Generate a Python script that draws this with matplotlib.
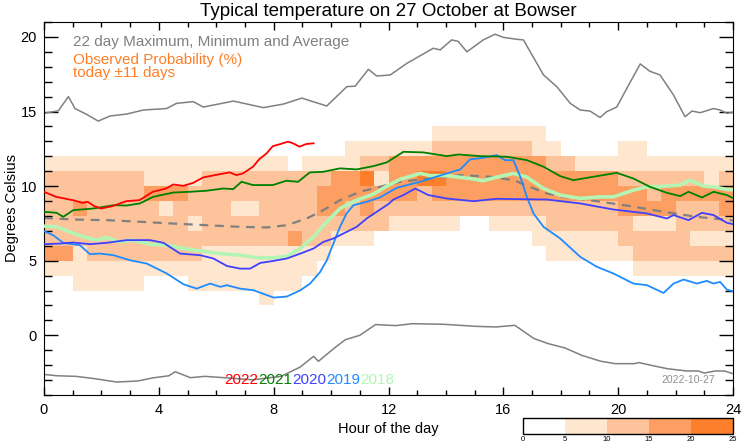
import matplotlib.pyplot as plt
import numpy as np
from matplotlib.colors import ListedColormap, BoundaryNorm
from matplotlib.ticker import MultipleLocator

plt.rcParams['font.family'] = ['Liberation Sans', 'DejaVu Sans']

# observed probability classes (0: <5%, 1: 5-10, 2: 10-15, 3: 15-20, 4: 20-25)
# one string per 1 degree bin, from 13-14 C (top) down to 2-3 C, 48 half hour cells
prob_rows = [
    "000000000000000000000000000111111110000000000000",
    "000000000000000000000111111222222211000011000000",
    "111111111111111110111122333333333332211111111111",
    "222222211112222222223341334433333333333322222212",
    "222222233322222222233333332333333333333333233333",
    "223222221222211222233232222222222222222233332223",
    "222222222212222222222222111110011112222221112222",
    "222222222222222223221110000000000011111122222111",
    "331222222221111111110000000000000001111112222222",
    "111111111111111111100000000000000000000001111111",
    "001111100011111111000000000000000000000000000000",
    "000000000000000100000000000000000000000000000000",
]
prob_top_temp = 14
prob_levels = [0, 5, 10, 15, 20, 25]
prob_colors = ['#ffffff', '#fee6cf', '#fdc49b', '#fd9f62', '#fd7f2b']

# 22 day maximum / minimum / average
max_h = [0, 0.5, 0.85, 1.08, 1.49, 1.89, 2.3, 2.88, 3.46, 4.27, 4.62, 5.2, 5.55, 6.6,
         7.64, 8.34, 8.98, 9.85, 10.55, 10.84, 11.3, 11.59, 12.06, 12.64, 13.56, 13.8,
         14.2, 14.43, 14.73, 15.3, 15.71, 16.0, 16.47, 16.7, 17.4, 17.86, 18.33, 18.68,
         19.02, 19.37, 19.6, 19.95, 20.4, 20.77, 21.1, 21.46, 21.93, 22.33, 22.57, 22.86,
         23.32, 23.55, 23.79, 24.0]
max_t = [14.88, 15.05, 16.0, 15.2, 14.8, 14.36, 14.7, 14.83, 15.1, 15.2, 15.55, 15.66,
         15.3, 15.7, 15.26, 15.5, 15.9, 15.37, 16.67, 16.7, 17.83, 17.38, 17.45, 18.23,
         19.24, 19.13, 19.8, 19.7, 19.0, 19.8, 20.18, 19.97, 19.84, 19.8, 17.45, 16.67,
         15.55, 15.1, 15.03, 14.6, 14.99, 15.3, 16.9, 18.19, 17.7, 17.45, 16.1, 14.65,
         15.03, 14.92, 15.2, 15.1, 14.88, 14.95]

min_h = [0, 0.45, 1.11, 1.78, 2.53, 3.27, 3.77, 4.35, 4.57, 5.1, 5.6, 6.27, 7.26, 8.26,
         8.92, 9.39, 9.56, 10.09, 10.5, 11.0, 11.55, 12.25, 12.83, 13.91, 15.07, 15.74,
         16.4, 17.07, 17.57, 18.15, 18.73, 19.4, 19.9, 20.56, 20.73, 21.22, 21.72, 22.39,
         22.8, 23.0, 23.38, 23.7, 24.0]
min_t = [-2.62, -2.71, -2.75, -2.91, -3.13, -3.06, -2.86, -2.71, -2.44, -2.84, -2.75,
         -2.84, -2.98, -2.75, -2.13, -1.41, -1.74, -0.89, -0.29, 0.0, 0.72, 0.65, 0.78,
         0.74, 0.6, 0.56, 0.67, -0.22, -0.56, -0.85, -1.34, -1.74, -1.9, -1.9, -1.83,
         -2.04, -2.24, -2.39, -2.39, -2.53, -2.39, -2.39, -2.57]

avg_h = [0, 1.02, 2.18, 3.34, 4.51, 5.67, 6.83, 7.76, 8.46, 9.15, 9.73, 10.31, 11.01,
         11.94, 12.4, 14.5, 15.54, 16.35, 16.93, 17.5, 18.1, 19.26, 20.42, 21.58, 22.74,
         24.0]
avg_t = [7.87, 7.76, 7.72, 7.61, 7.49, 7.38, 7.27, 7.23, 7.38, 7.83, 8.39, 9.06, 9.62,
         10.07, 10.29, 10.74, 10.63, 10.4, 9.95, 9.51, 9.28, 8.99, 8.66, 8.28, 7.94, 7.7]

# individual years
years = ['2022', '2021', '2020', '2019', '2018']
year_colors = ['#ff0000', '#008000', '#4040ff', '#1e8cff', '#b4f5b4']

h_2022 = [0, 0.42, 1.0, 1.35, 1.52, 1.75, 1.99, 2.39, 2.86, 3.33, 3.79, 4.25, 4.5, 4.85,
          5.2, 5.54, 6.12, 6.47, 6.7, 6.93, 7.28, 7.5, 7.75, 7.97, 8.2, 8.5, 8.67, 8.9,
          9.13, 9.39]
t_2022 = [9.62, 9.28, 9.06, 8.88, 8.95, 8.66, 8.5, 8.66, 8.99, 9.06, 9.62, 9.84, 10.11,
          10.02, 10.22, 10.58, 10.8, 10.92, 10.74, 10.85, 11.3, 11.81, 12.19, 12.68, 12.8,
          12.98, 12.87, 12.64, 12.82, 12.87]

h_2021 = [0, 0.44, 0.67, 1.02, 1.72, 2.42, 2.88, 3.34, 3.8, 4.5, 5.08, 5.66, 6.25, 6.59,
          6.88, 7.28, 7.97, 8.44, 8.85, 9.26, 9.73, 10.31, 10.89, 11.47, 11.94, 12.52,
          13.22, 14.03, 14.44, 15.19, 16.12, 16.82, 17.4, 17.98, 18.44, 19.14, 19.95,
          20.53, 21.11, 21.7, 22.16, 22.45, 22.92, 23.32, 23.79, 24.0]
t_2021 = [8.28, 8.21, 7.94, 8.39, 8.5, 8.72, 8.7, 8.84, 9.28, 9.57, 9.62, 9.69, 9.84, 9.8,
          10.29, 10.07, 10.07, 10.36, 10.29, 10.92, 10.96, 11.19, 11.12, 11.34, 11.59, 12.3,
          12.26, 12.01, 12.12, 12.01, 11.97, 11.74, 11.3, 10.67, 10.4, 10.63, 10.89, 10.51,
          9.95, 9.55, 9.33, 9.62, 9.24, 9.62, 9.4, 9.2]

h_2020 = [0, 0.56, 1.02, 1.6, 2.18, 2.88, 3.69, 4.16, 4.74, 5.44, 5.9, 6.37, 6.83, 7.18,
          7.53, 8.0, 8.46, 8.93, 9.39, 9.73, 10.08, 10.54, 10.89, 11.24, 11.59, 12.0,
          12.17, 12.52, 12.93, 13.39, 14.03, 14.96, 15.77, 17.52, 18.68, 19.84, 21.0,
          21.7, 21.93, 22.45, 22.92, 23.32, 23.79, 24.0]
t_2020 = [6.11, 6.15, 6.22, 6.11, 6.2, 6.38, 6.38, 6.2, 5.48, 5.37, 5.15, 4.65, 4.47,
          4.47, 4.85, 4.99, 5.15, 5.48, 5.82, 6.26, 6.49, 6.93, 7.27, 7.83, 8.28, 8.8,
          9.1, 9.4, 9.84, 9.4, 9.17, 8.99, 9.15, 9.1, 8.84, 8.43, 8.17, 7.83, 8.06, 7.72,
          8.21, 8.06, 7.54, 7.45]

h_2019 = [0, 0.32, 0.67, 1.25, 1.6, 1.95, 2.42, 3.0, 3.58, 4.28, 4.86, 5.32, 5.79, 6.14,
          6.37, 6.83, 7.3, 8.0, 8.46, 8.93, 9.27, 9.62, 9.85, 10.08, 10.31, 10.54, 10.78,
          11.24, 11.7, 12.29, 13.1, 14.03, 14.5, 14.84, 15.3, 15.77, 16.06, 16.35, 16.59,
          16.82, 17.05, 17.4, 17.98, 18.68, 19.26, 19.84, 20.53, 21.0, 21.58, 21.93,
          22.28, 22.74, 23.09, 23.32, 23.55, 23.79, 24.0]
t_2019 = [6.98, 6.71, 6.2, 6.04, 5.44, 5.48, 5.37, 5.03, 4.81, 4.14, 3.42, 3.13, 3.47,
          3.25, 3.36, 3.13, 3.02, 2.53, 2.6, 3.02, 3.47, 4.25, 5.03, 6.15, 7.27, 8.17,
          8.72, 8.95, 9.24, 9.89, 10.29, 10.85, 11.12, 11.79, 11.9, 12.08, 11.74, 11.74,
          10.63, 9.28, 8.17, 7.27, 6.49, 5.26, 4.59, 4.14, 3.47, 3.36, 2.84, 3.47, 3.74,
          3.47, 3.65, 3.47, 3.58, 3.06, 2.95]

h_2018 = [0, 0.44, 0.9, 1.37, 1.84, 2.18, 2.65, 3.11, 3.69, 4.27, 4.85, 5.43, 6.13, 6.83,
          7.41, 7.99, 8.46, 8.93, 9.39, 9.85, 10.31, 10.89, 11.47, 11.94, 12.4, 13.1,
          13.45, 14.03, 14.84, 15.3, 15.77, 16.35, 16.82, 17.4, 17.98, 18.68, 19.37,
          19.84, 20.53, 21.0, 21.7, 22.16, 22.5, 22.97, 23.32, 23.79, 24.0]
t_2018 = [7.32, 7.27, 6.93, 6.6, 6.38, 6.55, 6.26, 6.38, 6.11, 6.04, 5.82, 5.66, 5.48,
          5.37, 5.21, 5.19, 5.3, 5.82, 6.6, 7.61, 8.5, 9.06, 9.46, 10.0, 10.45, 10.85,
          10.7, 10.7, 10.51, 10.36, 10.6, 10.85, 10.6, 9.84, 9.4, 9.17, 9.28, 9.28, 9.73,
          9.95, 10.0, 10.07, 10.4, 10.0, 9.95, 9.78, 9.75]

year_h = [h_2022, h_2021, h_2020, h_2019, h_2018]
year_t = [t_2022, t_2021, t_2020, t_2019, t_2018]

fig = plt.figure(figsize=(7.42, 4.45), dpi=100)
ax = fig.add_axes([44 / 742, 50 / 445, 689 / 742, 373 / 445])

# probability cells
classes = np.array([[int(c) for c in row] for row in prob_rows])[::-1]
prob = np.ma.masked_equal(classes * 5 + 2.5, 2.5)
hour_edges = np.linspace(0, 24, classes.shape[1] + 1)
temp_edges = np.arange(prob_top_temp - classes.shape[0], prob_top_temp + 1)
cmap = ListedColormap(prob_colors)
norm = BoundaryNorm(prob_levels, cmap.N)
mesh = ax.pcolormesh(hour_edges, temp_edges, prob, cmap=cmap, norm=norm, zorder=1)

ax.plot(max_h, max_t, color='#808080', lw=1.1, zorder=2)
ax.plot(min_h, min_t, color='#808080', lw=1.1, zorder=2)
ax.plot(avg_h, avg_t, color='#808080', lw=1.6, ls=(0, (4, 3)), zorder=2)

for h, t, c in reversed(list(zip(year_h, year_t, year_colors))):
    lw = 2.6 if c == '#b4f5b4' else 1.3
    ax.plot(h, t, color=c, lw=lw, zorder=3)

ax.set_xlim(0, 24)
ax.set_ylim(-4, 21)
ax.xaxis.set_major_locator(MultipleLocator(4))
ax.xaxis.set_minor_locator(MultipleLocator(1))
ax.yaxis.set_major_locator(MultipleLocator(5))
ax.yaxis.set_minor_locator(MultipleLocator(1))
ax.tick_params(axis='both', which='both', direction='in', top=True, right=True,
               labelsize=10.5, width=1)
ax.tick_params(axis='x', which='major', length=6, pad=6)
ax.tick_params(axis='x', which='minor', length=3.5)
ax.tick_params(axis='y', which='major', length=10, pad=5)
ax.tick_params(axis='y', which='minor', length=6)

ax.set_title('Typical temperature on 27 October at Bowser', fontsize=13.5, pad=4)
ax.set_xlabel('Hour of the day', fontsize=10.5, labelpad=3)
ax.set_ylabel('Degrees Celsius', fontsize=10.5, labelpad=1)

ax.text(1.0, 19.66, '22 day Maximum, Minimum and Average', color='#808080',
        fontsize=11, va='center', ha='left')
ax.text(1.0, 18.0, 'Observed Probability (%)\ntoday \u00b111 days', color='#ff7f27',
        fontsize=11, va='center', ha='left', linespacing=0.9)

prev = ax.text(6.27, -3.02, years[0], color=year_colors[0], fontsize=11, va='center', ha='left')
for y, c in zip(years[1:], year_colors[1:]):
    prev = ax.annotate(y, xy=(1, 0.5), xycoords=prev, color=c, fontsize=11,
                       va='center', ha='left')

ax.text(23.38, -3.0, '2022-10-27', color='#909090', fontsize=7.5, va='center', ha='right')

cax = fig.add_axes([523 / 742, 11 / 445, 210 / 742, 16 / 445])
cb = fig.colorbar(mesh, cax=cax, orientation='horizontal', ticks=prob_levels)
cb.ax.tick_params(labelsize=5.5, length=0, pad=1.5)
cb.outline.set_linewidth(1)

fig.savefig('out.png', dpi=100)
